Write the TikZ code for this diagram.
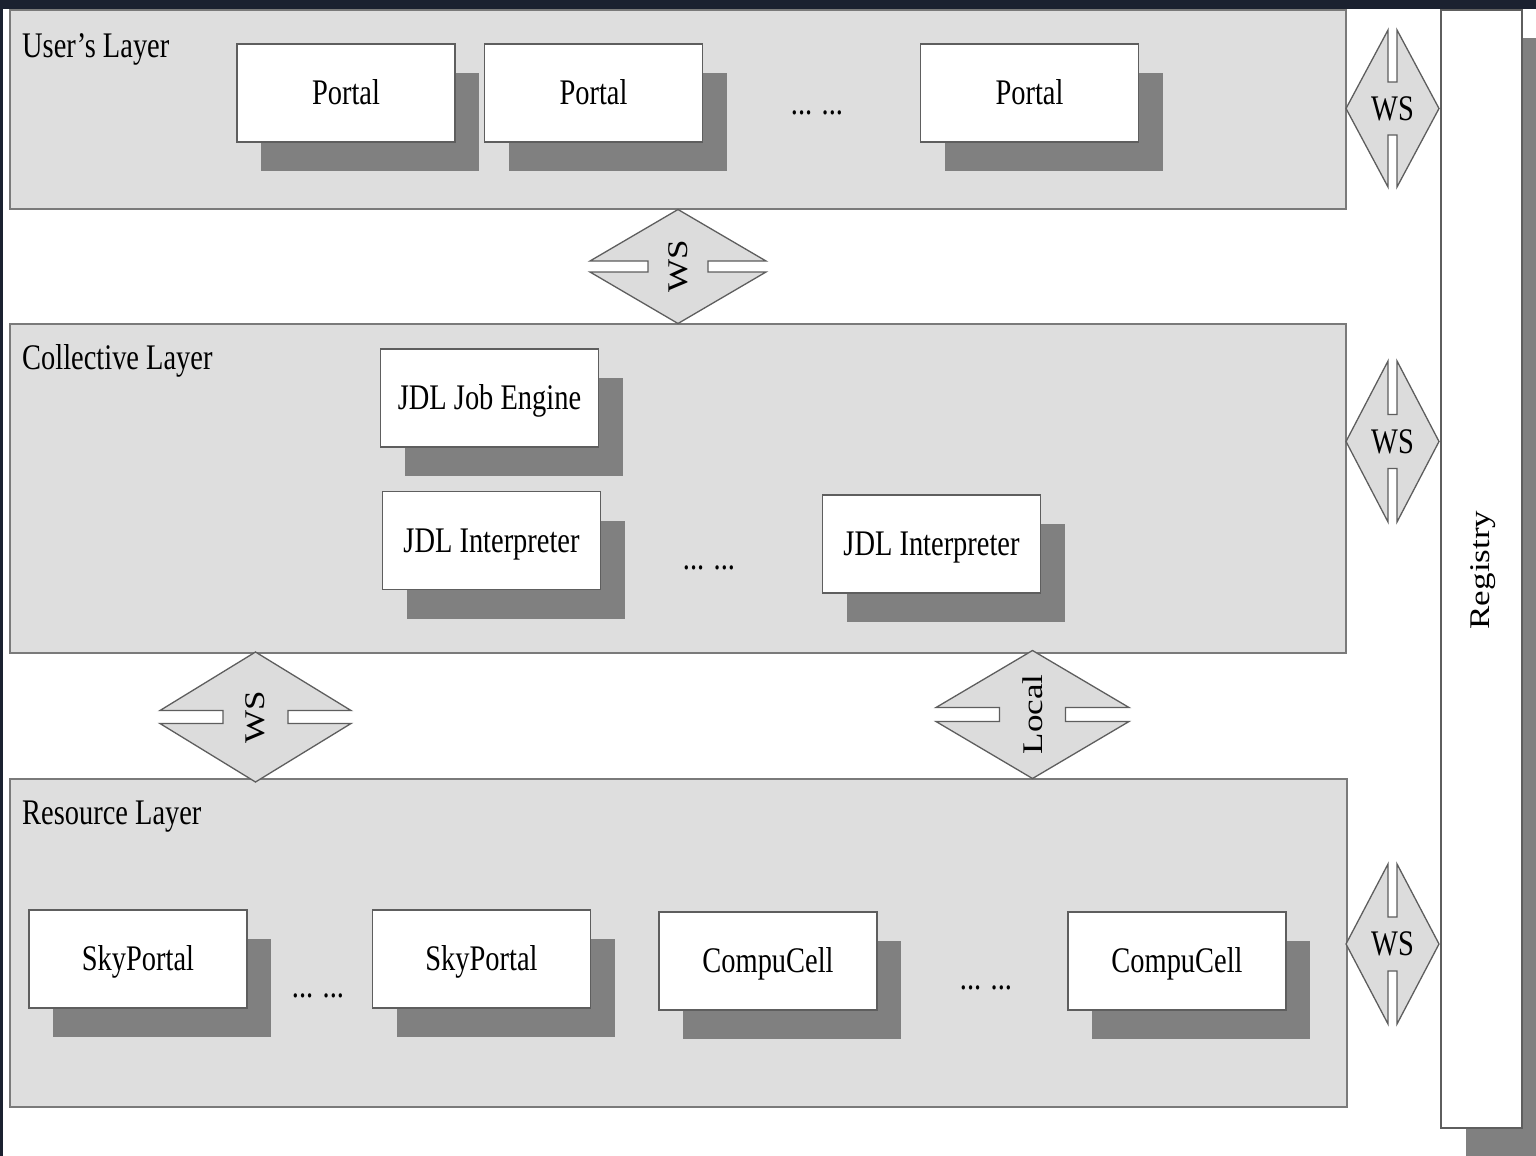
\documentclass[tikz,border=0pt]{standalone}
\usepackage{fontspec}
\setmainfont[FakeStretch=0.79]{Liberation Serif}
\newfontfamily\rotfont[FakeStretch=1.23]{Liberation Serif}
\usetikzlibrary{shadows}
\definecolor{layerfill}{HTML}{DEDEDE}
\definecolor{connfill}{HTML}{DCDCDC}
\definecolor{shadowgray}{HTML}{808080}
\definecolor{layerline}{HTML}{7A7A7A}
\definecolor{boxline}{HTML}{5E5E5E}
\definecolor{bandcol}{HTML}{1B2130}
\newcommand{\hslotdiamond}[6]{%
  \begin{scope}[shift={(#1,#2)}]
    \draw[connshape] (0,-#4) -- (#3,-#6) -- (#5,-#6) -- (#5,#6) -- (#3,#6) -- (0,#4)
      -- (-#3,#6) -- (-#5,#6) -- (-#5,-#6) -- (-#3,-#6) -- cycle;
  \end{scope}}
\newcommand{\vslotdiamond}[6]{%
  \begin{scope}[shift={(#1,#2)}]
    \draw[connshape] (-#3,0) -- (-#6,-#4) -- (-#6,-#5) -- (#6,-#5) -- (#6,-#4) -- (#3,0)
      -- (#6,#4) -- (#6,#5) -- (-#6,#5) -- (-#6,#4) -- cycle;
  \end{scope}}
\begin{document}
\begin{tikzpicture}[x=1pt,y=-1pt,
  layerbox/.style={draw=layerline,line width=1.6pt,fill=layerfill,inner sep=0pt},
  unitbox/.style={draw=boxline,line width=1.6pt,fill=white,minimum width=218pt,minimum height=98pt,inner sep=0pt,
    font=\fontsize{36}{40}\selectfont,text height=23.8pt,text depth=0pt,
    drop shadow={shadow xshift=24pt,shadow yshift=-29pt,fill=shadowgray,opacity=1}},
  regbox/.style={draw=boxline,line width=1.4pt,fill=white,minimum width=81pt,minimum height=1118pt,inner sep=0pt,
    drop shadow={shadow xshift=25pt,shadow yshift=-28pt,fill=shadowgray,opacity=1}},
  connshape/.style={draw=boxline,line width=1.3pt,fill=connfill,line join=miter},
  layerlabel/.style={font=\fontsize{36}{40}\selectfont,anchor=base west,inner sep=0pt},
  conntext/.style={font=\fontsize{36}{40}\selectfont,inner sep=0pt},
  rottext/.style={font=\rotfont\fontsize{28.5}{32}\selectfont,rotate=90,inner sep=0pt},
  dots/.style={font=\fontsize{36}{40}\selectfont,anchor=base,inner sep=0pt}]
\useasboundingbox (0,0) rectangle (1536,1156);
\clip (0,0) rectangle (1536,1156);
\fill[white] (0,0) rectangle (1536,1156);
\fill[bandcol] (0,0) rectangle (1536,9);
\fill[bandcol] (0,0) rectangle (3,1156);

% Registry
\node[regbox] (registry) at (1481.5,569) {};
\node[rottext] (reglabel) at (1483,570) {Registry};

% Layers
\node[layerbox,minimum width=1336pt,minimum height=199pt] (userlayer) at (678,109.5) {};
\node[layerbox,minimum width=1336pt,minimum height=329pt] (colllayer) at (678,488.5) {};
\node[layerbox,minimum width=1337pt,minimum height=328pt] (reslayer) at (678.5,943) {};
\node[layerlabel] (userlbl) at (22,57) {User’s Layer};
\node[layerlabel] (colllbl) at (22,369) {Collective Layer};
\node[layerlabel] (reslbl) at (22,824) {Resource Layer};

% User's layer
\node[unitbox] (portalA) at (346,93) {Portal};
\node[unitbox] (portalB) at (593.5,93) {Portal};
\node[unitbox] (portalC) at (1029.5,93) {Portal};
\node[dots] (dotsU) at (817,114) {... ...};

% Collective layer
\node[unitbox] (jobengine) at (489.5,398) {JDL Job Engine};
\node[unitbox] (interpA) at (491.5,540.5) {JDL Interpreter};
\node[unitbox] (interpB) at (931.5,544) {JDL Interpreter};
\node[dots] (dotsC) at (709,569) {... ...};

% Resource layer
\node[unitbox] (skyA) at (138,959) {SkyPortal};
\node[unitbox] (skyB) at (481.5,959) {SkyPortal};
\node[unitbox] (cellA) at (768,961) {CompuCell};
\node[unitbox] (cellB) at (1177,961) {CompuCell};
\node[dots] (dotsR1) at (318,997) {... ...};
\node[dots] (dotsR2) at (986,989) {... ...};

% Connectors between layers
\hslotdiamond{678}{266.5}{88}{57}{30}{5.5}
\node[rottext] (wsUC) at (678,266.5) {WS};
\hslotdiamond{255.5}{717}{95.5}{65}{32.5}{6.5}
\node[rottext] (wsCR) at (255.5,717) {WS};
\hslotdiamond{1032.5}{714.5}{96.5}{64}{33}{7}
\node[rottext] (localCR) at (1032.5,714.5) {Local};

% Connectors to registry
\vslotdiamond{1392.5}{108.5}{46.5}{78.5}{26.5}{4.5}
\node[conntext] (wsRegU) at (1392.5,108.5) {WS};
\vslotdiamond{1392.5}{441.5}{46.5}{80.5}{27}{4.5}
\node[conntext] (wsRegC) at (1392.5,441.5) {WS};
\vslotdiamond{1392.5}{944}{46.5}{80}{27}{4.5}
\node[conntext] (wsRegR) at (1392.5,944) {WS};
\end{tikzpicture}
\end{document}
